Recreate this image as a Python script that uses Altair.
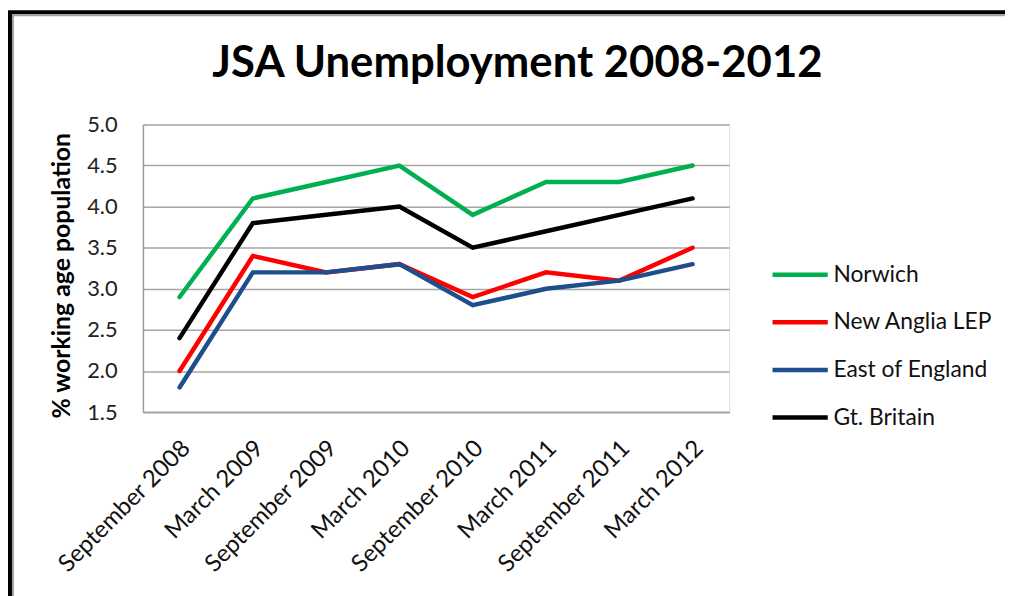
import altair as alt
import pandas as pd

periods = ["September 2008", "March 2009", "September 2009", "March 2010",
           "September 2010", "March 2011", "September 2011", "March 2012"]
series_names = ["Norwich", "New Anglia LEP", "East of England", "Gt. Britain"]
norwich = [2.9, 4.1, 4.3, 4.5, 3.9, 4.3, 4.3, 4.5]
new_anglia = [2.0, 3.4, 3.2, 3.3, 2.9, 3.2, 3.1, 3.5]
east_england = [1.8, 3.2, 3.2, 3.3, 2.8, 3.0, 3.1, 3.3]
gt_britain = [2.4, 3.8, 3.9, 4.0, 3.5, 3.7, 3.9, 4.1]
colors = ["#00B050", "#FF0000", "#1F4E8C", "#000000"]
y_ticks = [1.5, 2.0, 2.5, 3.0, 3.5, 4.0, 4.5, 5.0]

rows = []
for name, vals in zip(series_names, [norwich, new_anglia, east_england, gt_britain]):
    for i, (p, v) in enumerate(zip(periods, vals)):
        rows.append({"period": p, "series": name, "value": v, "idx": i})
df = pd.DataFrame(rows)

FONT = "Lato"
W, H = 591, 290
PL, PT = 136, 115

lines = alt.Chart(df).mark_line(strokeWidth=4.5, strokeCap="round").encode(
    x=alt.X("period:N", sort=periods, title=None,
            scale=alt.Scale(type="point", padding=0.5),
            axis=alt.Axis(labelAngle=-45, labelFont=FONT, labelFontSize=24,
                          labelColor="#111111", ticks=False, grid=False,
                          domainColor="#9e9e9e", domainWidth=1.5, labelPadding=24,
                          labelOffset=-2)),
    y=alt.Y("value:Q", title="% working age population",
            scale=alt.Scale(domain=[1.5, 5.0], nice=False, zero=False),
            axis=alt.Axis(values=y_ticks, format=".1f", labelFont=FONT, labelFontSize=22,
                          labelColor="#222222", ticks=False, grid=True,
                          gridColor="#a6a6a6", gridWidth=1.5,
                          domainColor="#9e9e9e", domainWidth=1.5, labelPadding=26,
                          titleFont=FONT, titleFontSize=25, titleFontWeight="bold",
                          titleColor="#000000", titleX=-82, titleY=152,
                          titleAngle=-90, titleAlign="center", titleBaseline="middle")),
    color=alt.Color("series:N", sort=series_names,
                    scale=alt.Scale(domain=series_names, range=colors),
                    legend=alt.Legend(title=None, orient="none", legendX=632, legendY=121,
                                      symbolType="stroke", symbolSize=3100,
                                      symbolStrokeWidth=4.5, labelFont=FONT,
                                      labelFontSize=23, labelColor="#111111",
                                      labelLimit=400, labelOffset=3, rowPadding=5)),
    order="idx:Q",
)

frame_df = pd.DataFrame({"k": [0]})
frame = alt.Chart(frame_df).mark_rect(filled=False, stroke="#000000", strokeWidth=4).encode(
    x=alt.value(-134), y=alt.value(-113), x2=alt.value(2000), y2=alt.value(2000))
frame2 = alt.Chart(frame_df).mark_rect(filled=False, stroke="#a0a0a0", strokeWidth=2).encode(
    x=alt.value(-131), y=alt.value(-110), x2=alt.value(2000), y2=alt.value(2000))

chart = alt.layer(frame, frame2, lines).properties(
    width=W, height=H,
    title=alt.TitleParams("JSA Unemployment 2008-2012", font=FONT, fontSize=44,
                          fontWeight="bold", color="#000000", anchor="middle",
                          frame="group", dx=82, dy=96, offset=20),
    autosize=alt.AutoSizeParams(type="none"),
    padding={"left": PL, "top": PT, "right": 1005 - PL - W, "bottom": 588 - PT - H},
).configure_view(stroke="transparent").configure(background="white")

chart.save("out.html", embed_options={"renderer": "svg", "actions": False})
